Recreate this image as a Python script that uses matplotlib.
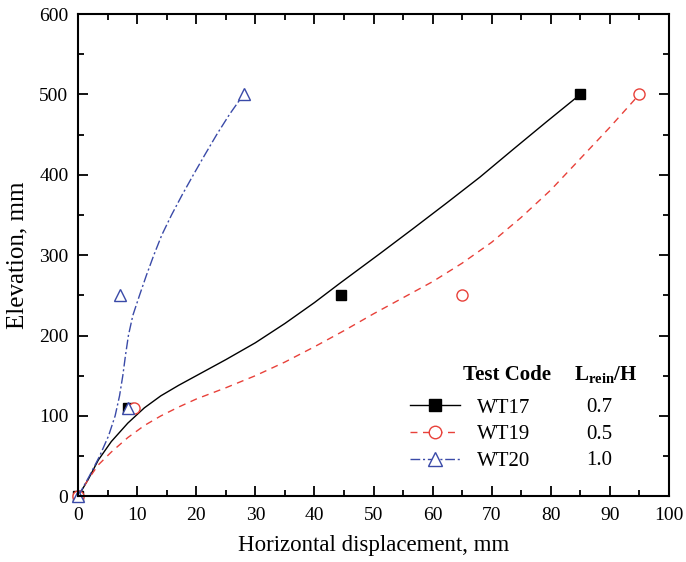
import matplotlib
matplotlib.use('Agg')
import matplotlib.pyplot as plt
from matplotlib.lines import Line2D
from matplotlib.ticker import MultipleLocator

plt.rcParams['font.family'] = ['Liberation Serif', 'DejaVu Serif']
plt.rcParams['mathtext.fontset'] = 'custom'
plt.rcParams['mathtext.rm'] = 'Liberation Serif'
plt.rcParams['mathtext.bf'] = 'Liberation Serif:bold'

# measured points
codes = ['WT17', 'WT19', 'WT20']
ratios = ['0.7', '0.5', '1.0']
pts_x = {'WT17': [0, 8.5, 44.5, 85],
         'WT19': [0, 9.5, 65, 95],
         'WT20': [0, 8.5, 7, 28]}
pts_y = {'WT17': [0, 110, 250, 500],
         'WT19': [0, 110, 250, 500],
         'WT20': [0, 110, 250, 500]}

# fitted curves
fit_x = {'WT17': [0, 1.7, 3.4, 5.6, 8.4, 11.2, 14, 17, 20, 25, 30, 35, 40, 44.3,
                  51.1, 56.7, 62.4, 68, 73.7, 79.3, 85],
         'WT19': [0, 1.7, 3.4, 5.6, 8.4, 11.2, 14, 17, 20, 25, 30, 35, 40, 45, 50,
                  55, 60, 65, 70, 75, 80, 85, 90, 95],
         'WT20': [0, 1.88, 3.63, 5.13, 6.25, 7.0, 7.55, 8.0, 8.5, 9.25, 10.38, 11.55,
                  12.8, 14.15, 15.8, 17.6, 19.5, 21.45, 23.45, 25.6, 28]}
fit_y = {'WT17': [0, 21, 45, 68, 91, 110, 125, 138, 150, 170, 191, 215, 241, 265,
                  302, 333, 365, 397, 432, 466, 500],
         'WT19': [0, 21, 39, 55, 73, 88, 100, 111, 121, 135, 150, 167, 186, 206, 227,
                  247, 267, 290, 316, 347, 381, 420, 459, 500],
         'WT20': [0, 25, 50, 75, 100, 125, 150, 175, 200, 225, 250, 275, 300, 325,
                  350, 375, 400, 425, 450, 475, 500]}

colors = {'WT17': 'black', 'WT19': '#e8413a', 'WT20': '#3a4aa8'}
styles = {'WT17': '-', 'WT19': (0, (5, 4)), 'WT20': (0, (7, 2, 1.5, 2))}
markers = {'WT17': ('s', 7, True), 'WT19': ('o', 8, False), 'WT20': ('^', 8.5, False)}

fig, ax = plt.subplots(figsize=(6.86, 5.62), dpi=100)
fig.subplots_adjust(left=0.114, right=0.975, bottom=0.117, top=0.975)

handles = []
for c in codes:
    ax.plot(fit_x[c], fit_y[c], color=colors[c], linestyle=styles[c], lw=1.0)
    m, ms, filled = markers[c]
    fc = colors[c] if filled else 'white'
    ax.plot(pts_x[c], pts_y[c], linestyle='none', marker=m, ms=ms,
            mfc=fc, mec=colors[c], mew=1.0, clip_on=False)
    handles.append(Line2D([], [], color=colors[c], linestyle=styles[c], lw=1.0,
                          marker=m, ms=ms + 1, mfc=fc, mec=colors[c], mew=1.0))

ax.set_xlim(0, 100)
ax.set_ylim(0, 600)
ax.xaxis.set_major_locator(MultipleLocator(10))
ax.xaxis.set_minor_locator(MultipleLocator(5))
ax.yaxis.set_major_locator(MultipleLocator(100))
ax.yaxis.set_minor_locator(MultipleLocator(50))
ax.tick_params(which='both', direction='in', top=True, right=True, width=1.3, labelsize=14)
ax.tick_params(which='major', length=7)
ax.tick_params(which='minor', length=4)
ax.tick_params(axis='x', pad=8)
ax.tick_params(axis='y', pad=7)
for s in ax.spines.values():
    s.set_linewidth(1.5)

ax.set_xlabel('Horizontal displacement, mm', fontsize=16.5, labelpad=8)
ax.set_ylabel('Elevation, mm', fontsize=18, labelpad=8)

leg = ax.legend(handles, codes, loc='center left', bbox_to_anchor=(0.562, 0.128),
                frameon=False, fontsize=15, handlelength=2.4, handletextpad=0.82,
                labelspacing=0.34, borderpad=0, borderaxespad=0)

ax.text(0.726, 0.252, 'Test Code', transform=ax.transAxes, fontsize=15,
        fontweight='bold', ha='center', va='center')
ax.text(0.893, 0.252, r'$\mathbf{L}_{\mathbf{rein}}$/H', transform=ax.transAxes,
        fontsize=15, fontweight='bold', ha='center', va='center')
for i, r in enumerate(ratios):
    ax.text(0.882, 0.184 - i * 0.055, r, transform=ax.transAxes, fontsize=15,
            ha='center', va='center')

fig.savefig('out.png', dpi=100)
